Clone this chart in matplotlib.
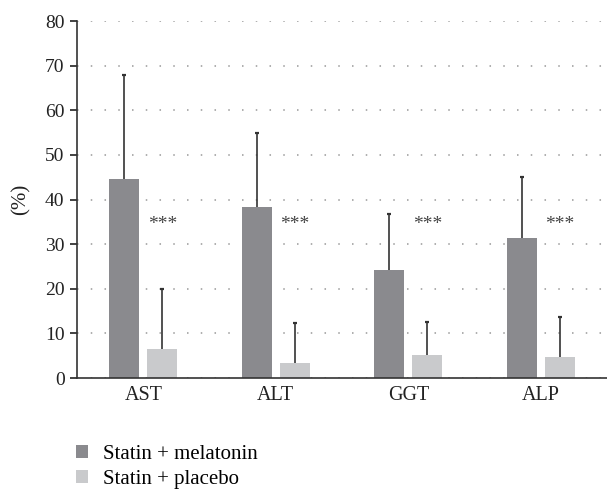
import numpy as np
import matplotlib.pyplot as plt

plt.rcParams['font.family'] = ['Liberation Serif', 'DejaVu Serif']

categories = ["AST", "ALT", "GGT", "ALP"]
melatonin = [44.6, 38.3, 24.2, 31.4]
melatonin_sd = [23.4, 16.7, 12.6, 13.6]
placebo = [6.5, 3.4, 5.2, 4.7]
placebo_sd = [13.5, 8.9, 7.3, 9.0]
sig_labels = ["***", "***", "***", "***"]
sig_y = 34.5

dark = "#8a8a8e"
light = "#c9cacc"
ink = "#222222"

fig = plt.figure(figsize=(6.07, 4.91), dpi=100)
ax = fig.add_axes([0.127, 0.23, 0.873, 0.727])

x = np.arange(len(categories))
w = 0.226
off = 0.143

ax.bar(x - off, melatonin, w, color=dark, label="Statin + melatonin", zorder=2)
ax.bar(x + off, placebo, w, color=light, label="Statin + placebo", zorder=2)

# upper-only error bars with a small cap
for xs, means, sds in [(x - off, melatonin, melatonin_sd), (x + off, placebo, placebo_sd)]:
    tops = np.array(means) + np.array(sds)
    ax.vlines(xs, means, tops, color="#333333", linewidth=1.2, zorder=3)
    ax.plot(xs, tops, linestyle="none", marker="_", markersize=3.5,
            markeredgewidth=1.6, color="#333333", zorder=3)

for xi, s in zip(x, sig_labels):
    ax.text(xi + off, sig_y, s, ha="center", va="center", fontsize=14, color="#444444")

ax.set_xlim(-0.5, 3.5)
ax.set_ylim(0, 80)
ax.set_yticks(range(0, 81, 10))
ax.set_xticks(x)
ax.set_xticklabels(categories)
ax.tick_params(axis="x", length=0, labelsize=14.5, pad=6, colors=ink)
ax.tick_params(axis="y", length=5, width=1.2, labelsize=14, colors=ink, pad=4)
ax.set_ylabel("(%)", fontsize=15, color=ink, labelpad=10)

ax.yaxis.grid(True, linestyle=(0, (1, 8)), color="#999999", linewidth=1.1, zorder=0)
ax.set_axisbelow(True)
for s in ["top", "right"]:
    ax.spines[s].set_visible(False)
for s in ["left", "bottom"]:
    ax.spines[s].set_color("#333333")
    ax.spines[s].set_linewidth(1.2)

leg = ax.legend(loc="upper left", bbox_to_anchor=(-0.018, -0.163), frameon=False,
                fontsize=15, handlelength=0.6, handleheight=0.6,
                handletextpad=0.7, labelspacing=0.3, borderaxespad=0)

fig.savefig("out.png", dpi=100)
